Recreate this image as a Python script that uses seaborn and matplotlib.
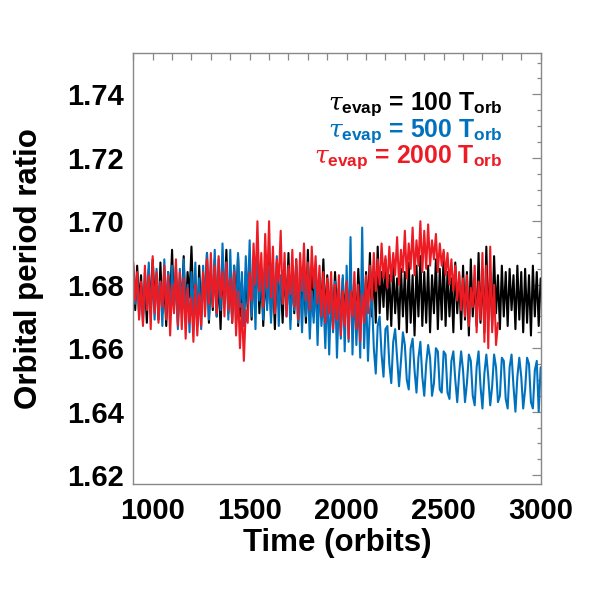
import numpy as np
import pandas as pd
import matplotlib
matplotlib.use("Agg")
import matplotlib.pyplot as plt
import seaborn as sns

t_start = 900
t_step = 10

tau100 = [
    1.684, 1.672, 1.686, 1.674, 1.683, 1.670, 1.681, 1.668, 1.685, 1.673, 1.688,
    1.676, 1.683, 1.669, 1.687, 1.671, 1.680, 1.667, 1.684, 1.675, 1.691,
    1.672, 1.686, 1.668, 1.682, 1.674, 1.689, 1.669, 1.684, 1.676, 1.692,
    1.673, 1.681, 1.667, 1.686, 1.670, 1.683, 1.675, 1.690, 1.668, 1.684,
    1.672, 1.688, 1.670, 1.682, 1.666, 1.685, 1.674, 1.691, 1.671, 1.683,
    1.668, 1.686, 1.673, 1.689, 1.670, 1.681, 1.667, 1.684, 1.672, 1.688,
    1.669, 1.683, 1.675, 1.690, 1.671, 1.685, 1.667, 1.682, 1.674, 1.689,
    1.670, 1.684, 1.666, 1.687, 1.673, 1.681, 1.668, 1.686, 1.672, 1.690,
    1.669, 1.683, 1.671, 1.688, 1.667, 1.685, 1.674, 1.682, 1.668, 1.691,
    1.672, 1.686, 1.670, 1.684, 1.666, 1.682, 1.673, 1.688, 1.669, 1.683,
    1.671, 1.680, 1.668, 1.684, 1.672, 1.679, 1.667, 1.682, 1.670, 1.681,
    1.669, 1.683, 1.672, 1.680, 1.668, 1.685, 1.671, 1.682, 1.669, 1.684,
    1.672, 1.690, 1.670, 1.686, 1.668, 1.692, 1.671, 1.684, 1.673, 1.688,
    1.669, 1.683, 1.667, 1.686, 1.671, 1.682, 1.666, 1.685, 1.670, 1.684,
    1.665, 1.687, 1.668, 1.683, 1.664, 1.686, 1.670, 1.689, 1.667, 1.684,
    1.668, 1.686, 1.665, 1.683, 1.671, 1.688, 1.666, 1.685, 1.669, 1.690,
    1.667, 1.684, 1.670, 1.682, 1.665, 1.687, 1.671, 1.683, 1.666, 1.686,
    1.669, 1.684, 1.664, 1.688, 1.670, 1.682, 1.667, 1.690, 1.668, 1.685,
    1.665, 1.692, 1.669, 1.684, 1.667, 1.689, 1.671, 1.683, 1.666, 1.686,
    1.670, 1.684, 1.667, 1.685, 1.672, 1.683, 1.666, 1.686, 1.669, 1.684,
    1.665, 1.685, 1.668, 1.683, 1.664, 1.686, 1.670, 1.684, 1.667, 1.682,
]

tau500 = [
    1.686, 1.674, 1.683, 1.670, 1.680, 1.668, 1.684, 1.673, 1.687, 1.671, 1.682,
    1.669, 1.685, 1.674, 1.681, 1.667, 1.688, 1.672, 1.684, 1.670, 1.686,
    1.673, 1.683, 1.666, 1.685, 1.671, 1.688, 1.669, 1.680, 1.665, 1.684,
    1.670, 1.687, 1.668, 1.682, 1.666, 1.686, 1.672, 1.690, 1.669, 1.684,
    1.674, 1.691, 1.670, 1.688, 1.672, 1.693, 1.676, 1.687, 1.669, 1.691,
    1.671, 1.686, 1.668, 1.690, 1.673, 1.684, 1.667, 1.689, 1.674, 1.694,
    1.670, 1.687, 1.666, 1.692, 1.675, 1.685, 1.669, 1.688, 1.672, 1.686,
    1.668, 1.684, 1.671, 1.689, 1.667, 1.683, 1.674, 1.687, 1.670, 1.685,
    1.666, 1.682, 1.672, 1.686, 1.668, 1.681, 1.665, 1.684, 1.670, 1.680,
    1.663, 1.678, 1.668, 1.683, 1.661, 1.680, 1.667, 1.676, 1.660, 1.679,
    1.658, 1.677, 1.665, 1.681, 1.657, 1.675, 1.663, 1.683, 1.659, 1.686,
    1.662, 1.695, 1.658, 1.680, 1.661, 1.676, 1.657, 1.698, 1.660, 1.678,
    1.656, 1.672, 1.676, 1.660, 1.652, 1.667, 1.670, 1.658, 1.651, 1.666,
    1.667, 1.655, 1.649, 1.662, 1.666, 1.657, 1.648, 1.656, 1.665, 1.661,
    1.650, 1.647, 1.660, 1.663, 1.653, 1.646, 1.657, 1.662, 1.651, 1.645,
    1.655, 1.661, 1.657, 1.645, 1.649, 1.660, 1.659, 1.647, 1.646, 1.659,
    1.658, 1.646, 1.644, 1.656, 1.659, 1.650, 1.643, 1.652, 1.659, 1.653,
    1.643, 1.649, 1.658, 1.656, 1.645, 1.642, 1.654, 1.659, 1.648, 1.641,
    1.652, 1.658, 1.651, 1.642, 1.648, 1.658, 1.654, 1.643, 1.645, 1.657,
    1.656, 1.644, 1.641, 1.654, 1.658, 1.648, 1.640, 1.651, 1.657, 1.651,
    1.641, 1.647, 1.657, 1.655, 1.643, 1.641, 1.653, 1.656, 1.640, 1.654,
]

tau2000 = [
    1.687, 1.675, 1.684, 1.669, 1.681, 1.667, 1.686, 1.672, 1.683, 1.666, 1.689,
    1.671, 1.684, 1.668, 1.681, 1.673, 1.686, 1.669, 1.683, 1.664, 1.680,
    1.671, 1.688, 1.667, 1.684, 1.666, 1.682, 1.663, 1.679, 1.668, 1.676,
    1.662, 1.680, 1.664, 1.677, 1.667, 1.684, 1.670, 1.688, 1.674, 1.690,
    1.673, 1.686, 1.671, 1.689, 1.676, 1.684, 1.670, 1.687, 1.672, 1.682,
    1.668, 1.684, 1.664, 1.678, 1.660, 1.674, 1.656, 1.672, 1.668, 1.684,
    1.675, 1.693, 1.680, 1.700, 1.678, 1.690, 1.673, 1.696, 1.679, 1.700,
    1.676, 1.692, 1.671, 1.688, 1.681, 1.697, 1.674, 1.690, 1.670, 1.686,
    1.677, 1.691, 1.673, 1.688, 1.669, 1.690, 1.678, 1.693, 1.675, 1.687,
    1.672, 1.692, 1.679, 1.689, 1.674, 1.686, 1.670, 1.684, 1.668, 1.682,
    1.671, 1.684, 1.666, 1.680, 1.669, 1.683, 1.664, 1.678, 1.667, 1.681,
    1.663, 1.678, 1.670, 1.684, 1.666, 1.680, 1.662, 1.677, 1.668, 1.683,
    1.671, 1.686, 1.675, 1.690, 1.678, 1.688, 1.680, 1.693, 1.682, 1.689,
    1.679, 1.692, 1.681, 1.690, 1.683, 1.695, 1.680, 1.691, 1.684, 1.697,
    1.682, 1.693, 1.685, 1.698, 1.683, 1.694, 1.686, 1.700, 1.684, 1.697,
    1.685, 1.699, 1.686, 1.694, 1.688, 1.696, 1.684, 1.693, 1.686, 1.691,
    1.683, 1.690, 1.680, 1.688, 1.678, 1.686, 1.675, 1.684, 1.672, 1.682,
    1.670, 1.683, 1.667, 1.679, 1.673, 1.686, 1.665, 1.681, 1.669, 1.690,
    1.662, 1.686, 1.660, 1.692, 1.665, 1.680, 1.661, 1.668,
]

series_labels = [
    r"$\tau_{\rm evap}$ = 100 T$_{\rm orb}$",
    r"$\tau_{\rm evap}$ = 500 T$_{\rm orb}$",
    r"$\tau_{\rm evap}$ = 2000 T$_{\rm orb}$",
]
series_colors = ["#000000", "#0072BD", "#ED1C24"]

x_ticks = [1000, 1500, 2000, 2500, 3000]
y_ticks = [1.62, 1.64, 1.66, 1.68, 1.70, 1.72, 1.74]

# ---------------- styling ----------------
sns.set_theme(style="white")
plt.rcParams["font.family"] = ["Liberation Sans", "DejaVu Sans"]
plt.rcParams["font.weight"] = "bold"
plt.rcParams["text.color"] = "black"
plt.rcParams["axes.labelcolor"] = "black"
plt.rcParams["xtick.labelcolor"] = "black"
plt.rcParams["ytick.labelcolor"] = "black"
plt.rcParams["mathtext.fontset"] = "custom"
plt.rcParams["mathtext.rm"] = "Liberation Sans:bold"
plt.rcParams["mathtext.bf"] = "Liberation Sans:bold"
plt.rcParams["mathtext.it"] = "DejaVu Serif:style=italic:weight=normal"

fig = plt.figure(figsize=(5.91, 5.91), dpi=100)
ax = fig.add_axes([0.2255, 0.181, 0.6893, 0.7298])

frames = []
for vals, lab in zip([tau100, tau500, tau2000], series_labels):
    tt = t_start + t_step * np.arange(len(vals))
    frames.append(pd.DataFrame({"time": tt, "ratio": vals, "series": lab}))
df = pd.concat(frames, ignore_index=True)

for lab, col in zip(series_labels, series_colors):
    sub = df[df["series"] == lab]
    sns.lineplot(data=sub, x="time", y="ratio", color=col, lw=1.5,
                 estimator=None, ax=ax, legend=False)

ax.set_xlim(900, 3000)
ax.set_ylim(1.6172, 1.7531)
ax.set_xticks(x_ticks)
ax.set_xticklabels([str(v) for v in x_ticks])
ax.set_yticks(y_ticks)
ax.set_yticklabels([f"{v:.2f}" for v in y_ticks])
ax.xaxis.set_minor_locator(matplotlib.ticker.MultipleLocator(100))
ax.yaxis.set_minor_locator(matplotlib.ticker.MultipleLocator(0.005))

tick_col = "#888888"
ax.tick_params(which="both", direction="in", top=True, right=True,
               color=tick_col, width=0.9, labelcolor="black")
ax.tick_params(axis="y", which="major", length=6.3, labelsize=21, pad=7)
ax.tick_params(axis="y", which="minor", length=3.1)
ax.tick_params(axis="x", which="both", length=5)
ax.tick_params(axis="x", which="major", labelsize=21, pad=9)
for lbl in ax.get_xticklabels() + ax.get_yticklabels():
    lbl.set_fontweight("bold")
for sp in ax.spines.values():
    sp.set_color(tick_col)
    sp.set_linewidth(1.0)

ax.set_xlabel("Time (orbits)", fontsize=22.5, fontweight="bold", color="black")
ax.set_ylabel("Orbital period ratio", fontsize=22.5, fontweight="bold", color="black")
ax.xaxis.set_label_coords(0.5, -0.103)
ax.yaxis.set_label_coords(-0.22, 0.5)

for lab, col, yy in zip(series_labels, series_colors, [0.8660, 0.8050, 0.7440]):
    ax.text(0.9067, yy, lab, transform=ax.transAxes, ha="right", va="baseline",
            color=col, fontsize=17.8, fontweight="bold")

fig.savefig("out.png", dpi=100)
